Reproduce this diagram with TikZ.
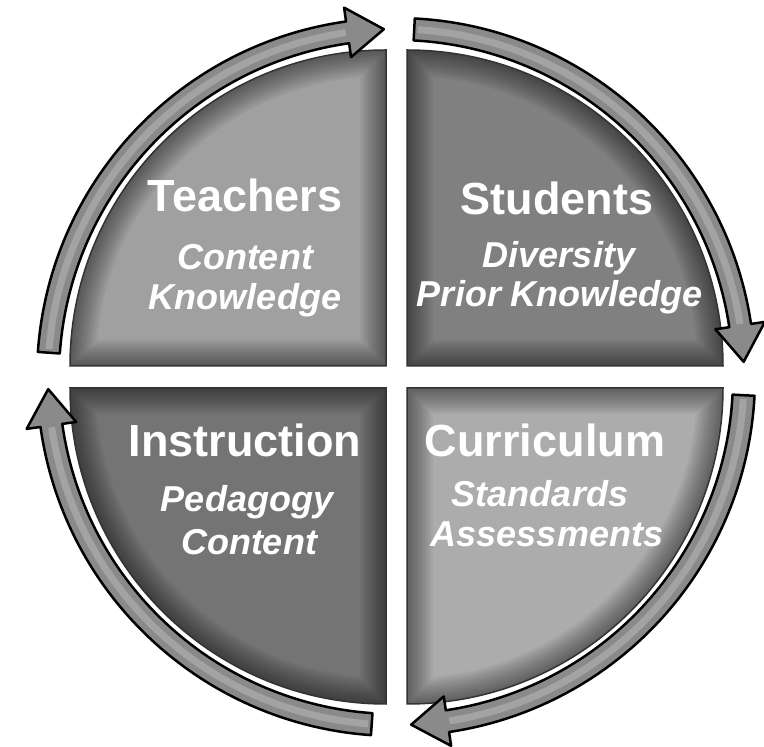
\documentclass[tikz,border=0pt]{standalone}
\usepackage{fontspec}
\setmainfont{Liberation Sans}
\definecolor{grisT}{HTML}{A0A0A0}
\definecolor{grisS}{HTML}{808080}
\definecolor{grisC}{HTML}{ACACAC}
\definecolor{grisI}{HTML}{747474}
\definecolor{grisF}{HTML}{8A8A8A}
\definecolor{grisL}{HTML}{B4B4B4}
\definecolor{grisB}{HTML}{333333}
\tikzset{
  titre/.style={text=white, font=\fontsize{45}{54}\selectfont\bfseries, anchor=base, inner sep=0pt},
  soustitre/.style={text=white, font=\fontsize{36}{40}\selectfont\bfseries\itshape, anchor=base, inner sep=0pt},
  fleche/.style={fill=grisF, draw=black, line width=2.5pt, line join=round},
  reflet/.style={draw=grisL, line width=7pt, opacity=0.6},
  bord/.style={draw=grisB, line width=1.5pt}
}
\begin{document}
\begin{tikzpicture}[x=1pt,y=1pt]
    \useasboundingbox (0,0) rectangle (764,747);
    % Quarts de disque (ombre intérieure par traits superposés)
    \foreach \cx/\cy/\sa/\col in {386/381/180/grisT, 407/381/90/grisS, 407/359/0/grisC, 386/359/-90/grisI} {
        \begin{scope}
            \clip (\cx,\cy) -- ++(\sa:316pt) arc[start angle=\sa, end angle=\sa-90, radius=316pt] -- cycle;
            \fill[\col] (\cx,\cy) -- ++(\sa:316pt) arc[start angle=\sa, end angle=\sa-90, radius=316pt] -- cycle;
            \foreach \w in {52,48,...,4}
                \draw[black, opacity=0.04, line width=\w pt] (\cx,\cy) -- ++(\sa:316pt) arc[start angle=\sa, end angle=\sa-90, radius=316pt] -- cycle;
        \end{scope}
        \draw[bord] (\cx,\cy) -- ++(\sa:316pt) arc[start angle=\sa, end angle=\sa-90, radius=316pt] -- cycle;
    }
    % Flèches courbes autour du cercle
    \begin{scope}[shift={(396,370)}]
        \foreach \a/\b in {176/92, 87/2.5, -3/-87.5, 266/182} {
            \pgfmathsetmacro{\tete}{\b+6}
            \draw[fleche] (\a:359pt) arc[start angle=\a, end angle=\tete, radius=359pt]
                -- (\tete:373pt) -- (\b:348pt) -- (\tete:323pt) -- (\tete:337pt)
                arc[start angle=\tete, end angle=\a, radius=337pt] -- cycle;
            \draw[reflet] (\a-0.6:348pt) arc[start angle=\a-0.6, end angle=\tete+0.3, radius=348pt];
        }
    \end{scope}
    % Textes
    \node[titre] (teachers) at (245,535) {Teachers};
    \node[soustitre] (teachers1) at (245,477) {Content};
    \node[soustitre] (teachers2) at (245,437) {Knowledge};
    \node[titre] (students) at (557,532) {Students};
    \node[soustitre] (students1) at (559,479) {Diversity};
    \node[soustitre] (students2) at (560,440) {Prior Knowledge};
    \node[titre] (curriculum) at (545,290) {Curriculum};
    \node[soustitre] (curriculum1) at (540,240) {Standards};
    \node[soustitre] (curriculum2) at (547,200) {Assessments};
    \node[titre] (instruction) at (245,290) {Instruction};
    \node[soustitre] (instruction1) at (247,235) {Pedagogy};
    \node[soustitre] (instruction2) at (249,192) {Content};
\end{tikzpicture}
\end{document}
